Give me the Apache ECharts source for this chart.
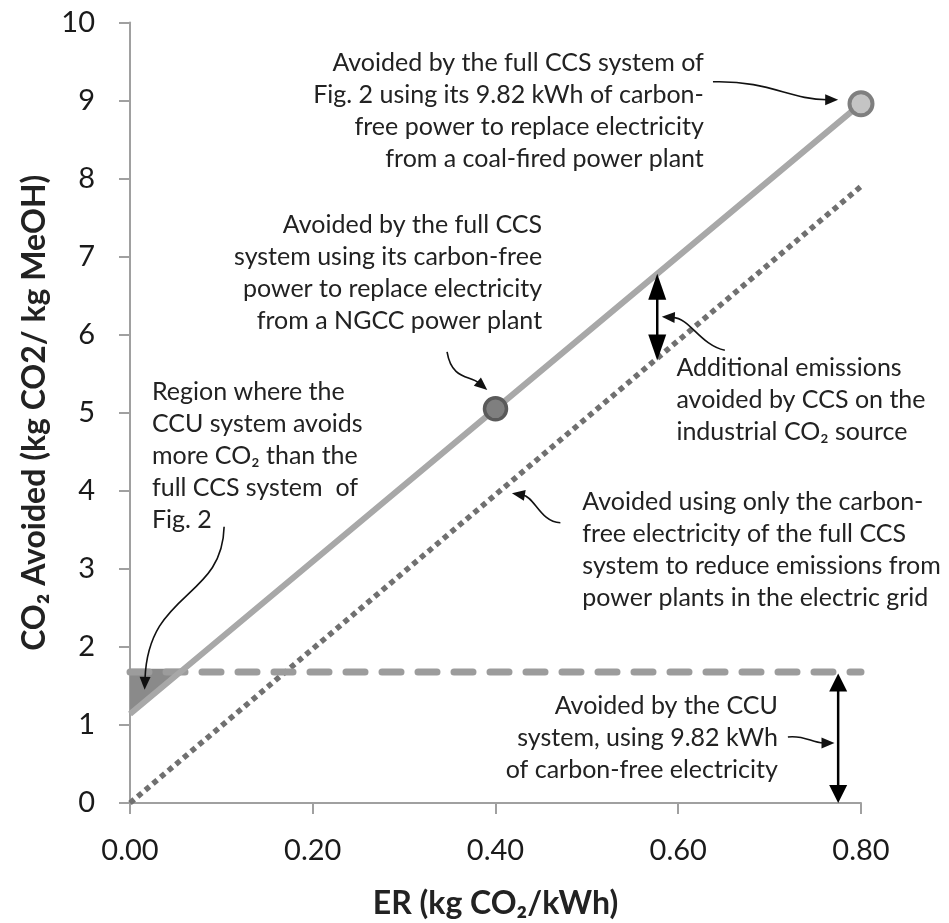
<!DOCTYPE html>
<html><head><meta charset="utf-8">
<script src="https://cdn.jsdelivr.net/npm/echarts@6/dist/echarts.min.js"></script>
<style>html,body{margin:0;padding:0;background:#fff}#c{width:949px;height:923px}</style>
</head><body><div id="c"></div>
<script>
// ---- data (ER in kg CO2/kWh, CO2 avoided in kg CO2 / kg MeOH) ----
const xTickValues = [0.00, 0.20, 0.40, 0.60, 0.80];
const yTickValues = [0, 1, 2, 3, 4, 5, 6, 7, 8, 9, 10];
const fullCcsLine = [[0, 1.14], [0.4, 5.05], [0.8, 8.96]];
const electricityOnlyLine = [[0, 0], [0.8, 7.90]];
const ccuLine = [[0, 1.68], [0.8, 1.68]];
const ngccPoint = [[0.4, 5.05]];
const coalPoint = [[0.8, 8.96]];
const ccuBetterRegion = [[0, 1.72], [0.059, 1.72], [0, 1.14]];
// double arrows: [x, yLow, yHigh]
const doubleArrows = [[0.577, 5.67, 6.78], [0.775, 0, 1.66]];
// callout arrows (cubic bezier): [x0,y0, c1x,c1y, c2x,c2y, tipX,tipY]
const calloutArrows = [
  [0.638, 9.24, 0.700, 9.26, 0.722, 9.01, 0.775, 9.01],
  [0.347, 5.78, 0.352, 5.42, 0.372, 5.48, 0.391, 5.29],
  [0.103, 3.54, 0.101, 2.60, 0.020, 2.73, 0.016, 1.45],
  [0.651, 5.80, 0.624, 5.87, 0.613, 6.21, 0.582, 6.23],
  [0.471, 3.59, 0.449, 3.60, 0.443, 3.92, 0.418, 3.97],
  [0.720, 0.846, 0.739, 0.871, 0.746, 0.769, 0.771, 0.769]
];
// annotation text anchors [x, yTop]
const noteAnchors = [[0.628, 9.69], [0.451, 7.61], [0.024, 5.47], [0.598, 5.78], [0.495, 4.06], [0.709, 1.45]];
const noteAlign = ['right', 'right', 'left', 'left', 'left', 'right'];
const noteTexts = [
  ['Avoided by the full CCS system of', 'Fig. 2 using its 9.82 kWh of carbon-', 'free power to replace electricity', 'from a coal-fired power plant'],
  ['Avoided by the full CCS', 'system using its carbon-free', 'power to replace electricity', 'from a NGCC power plant'],
  ['Region where the', 'CCU system avoids', 'more CO\u2082 than the', 'full CCS system  of', 'Fig. 2'],
  ['Additional emissions', 'avoided by CCS on the', 'industrial CO\u2082 source'],
  ['Avoided using only the carbon-', 'free electricity of the full CCS', 'system to reduce emissions from', 'power plants in the electric grid'],
  ['Avoided by the CCU', 'system, using 9.82 kWh', 'of carbon-free electricity']
];
const xAxisName = 'ER (kg CO\u2082/kWh)';
const yAxisName = 'CO\u2082 Avoided (kg CO2/ kg MeOH)';

// ---- style ----
const headSizes = [[26, 9], [18, 9]];
const FONT = 'Lato, "DejaVu Sans", sans-serif';
const axisGray = '#a0a0a0';

const chart = echarts.init(document.getElementById('c'), null, {renderer: 'canvas'});

function renderRegion(params, api) {
  if (params.dataIndex !== 0) return null;
  const pts = ccuBetterRegion.map(p => api.coord(p));
  return {type: 'polygon', shape: {points: pts}, style: {fill: '#8a8a8a'}};
}
function renderDouble(params, api) {
  const d = doubleArrows[params.dataIndex];
  const hs = headSizes[params.dataIndex];
  const top = api.coord([d[0], d[2]]);
  const bot = api.coord([d[0], d[1]]);
  const L = hs[0], W = hs[1];
  return {type: 'group', children: [
    {type: 'line', shape: {x1: top[0], y1: top[1] + L - 2, x2: bot[0], y2: bot[1] - L + 2}, style: {stroke: '#000', lineWidth: 2.5}},
    {type: 'polygon', shape: {points: [[top[0], top[1]], [top[0] - W, top[1] + L], [top[0] + W, top[1] + L]]}, style: {fill: '#000'}},
    {type: 'polygon', shape: {points: [[bot[0], bot[1]], [bot[0] - W, bot[1] - L], [bot[0] + W, bot[1] - L]]}, style: {fill: '#000'}}
  ]};
}
function renderCallout(params, api) {
  const a = calloutArrows[params.dataIndex];
  const p0 = api.coord([a[0], a[1]]), c1 = api.coord([a[2], a[3]]),
        c2 = api.coord([a[4], a[5]]), p3 = api.coord([a[6], a[7]]);
  const dx = p3[0] - c2[0], dy = p3[1] - c2[1];
  const len = Math.hypot(dx, dy) || 1;
  const ux = dx / len, uy = dy / len;
  const L = 13, W = 5.5;
  const b = [p3[0] - ux * L, p3[1] - uy * L];
  return {type: 'group', children: [
    {type: 'bezierCurve', shape: {x1: p0[0], y1: p0[1], cpx1: c1[0], cpy1: c1[1], cpx2: c2[0], cpy2: c2[1], x2: b[0] + ux * 2, y2: b[1] + uy * 2},
      style: {stroke: '#111', lineWidth: 1.6, fill: 'none'}},
    {type: 'polygon', shape: {points: [[p3[0], p3[1]], [b[0] - uy * W, b[1] + ux * W], [b[0] + uy * W, b[1] - ux * W]]}, style: {fill: '#111'}}
  ]};
}
function renderNote(params, api) {
  const i = params.dataIndex;
  const p = api.coord(noteAnchors[i]);
  return {type: 'text', x: p[0], y: p[1], style: {
    text: noteTexts[i].join('\n'), align: noteAlign[i], verticalAlign: 'top',
    fontSize: 25, fontFamily: FONT, fill: '#222', lineHeight: 32
  }};
}

chart.setOption({
  animation: false,
  backgroundColor: '#fff',
  grid: {left: 130, right: 88, top: 22.5, bottom: 120, containLabel: false, outerBoundsMode: 'none'},
  xAxis: {
    type: 'value', min: 0, max: 0.8, interval: 0.2,
    name: xAxisName, nameLocation: 'middle', nameGap: 85,
    nameTextStyle: {fontFamily: FONT, fontWeight: 'bold', fontSize: 32, color: '#222'},
    axisLine: {show: true, lineStyle: {color: axisGray, width: 2}},
    axisTick: {show: true, length: 11, lineStyle: {color: axisGray, width: 2}},
    axisLabel: {margin: 33, fontFamily: FONT, fontSize: 29, color: '#1a1a1a',
      formatter: v => { const m = xTickValues.find(t => Math.abs(t - v) < 1e-9); return m === undefined ? '' : m.toFixed(2); }},
    splitLine: {show: false}
  },
  yAxis: {
    type: 'value', min: 0, max: 10, interval: 1,
    name: yAxisName, nameLocation: 'middle', nameGap: 74, nameRotate: 90,
    nameTextStyle: {fontFamily: FONT, fontWeight: 'bold', fontSize: 32, color: '#222'},
    axisLine: {show: true, lineStyle: {color: axisGray, width: 2}},
    axisTick: {show: true, length: 11, lineStyle: {color: axisGray, width: 2}},
    axisLabel: {margin: 35, fontFamily: FONT, fontSize: 29, color: '#1a1a1a',
      formatter: v => { const m = yTickValues.find(t => Math.abs(t - v) < 1e-9); return m === undefined ? '' : String(m); }},
    splitLine: {show: false}
  },
  series: [
    {type: 'custom', name: 'region', renderItem: renderRegion, data: ccuBetterRegion, silent: true, z: 1},
    {type: 'line', name: 'electricity only', data: electricityOnlyLine, symbol: 'none', silent: true, z: 2,
      lineStyle: {color: '#707070', width: 5.5, type: [5.5, 4.5], cap: 'butt'}},
    {type: 'line', name: 'CCU', data: ccuLine, symbol: 'none', silent: true, z: 3,
      lineStyle: {color: '#9c9c9c', width: 7, type: [19, 17], cap: 'round'}},
    {type: 'line', name: 'full CCS', data: fullCcsLine, symbol: 'none', silent: true, z: 4,
      lineStyle: {color: '#a8a8a8', width: 6}},
    {type: 'scatter', name: 'NGCC', data: ngccPoint, symbol: 'circle', symbolSize: 22, silent: true, z: 5,
      itemStyle: {color: '#7f7f7f', borderColor: '#5a5a5a', borderWidth: 3.5, opacity: 1}},
    {type: 'scatter', name: 'coal', data: coalPoint, symbol: 'circle', symbolSize: 23, silent: true, z: 5,
      itemStyle: {color: '#c4c4c4', borderColor: '#7f7f7f', borderWidth: 4, opacity: 1}},
    {type: 'custom', name: 'double arrows', renderItem: renderDouble, data: doubleArrows, silent: true, z: 6,
      encode: {x: 0, y: [1, 2]}},
    {type: 'custom', name: 'callouts', renderItem: renderCallout, data: calloutArrows, silent: true, z: 6,
      encode: {x: 0, y: 1}},
    {type: 'custom', name: 'notes', renderItem: renderNote, data: noteAnchors, silent: true, z: 7,
      encode: {x: 0, y: 1}}
  ]
});
</script></body></html>
